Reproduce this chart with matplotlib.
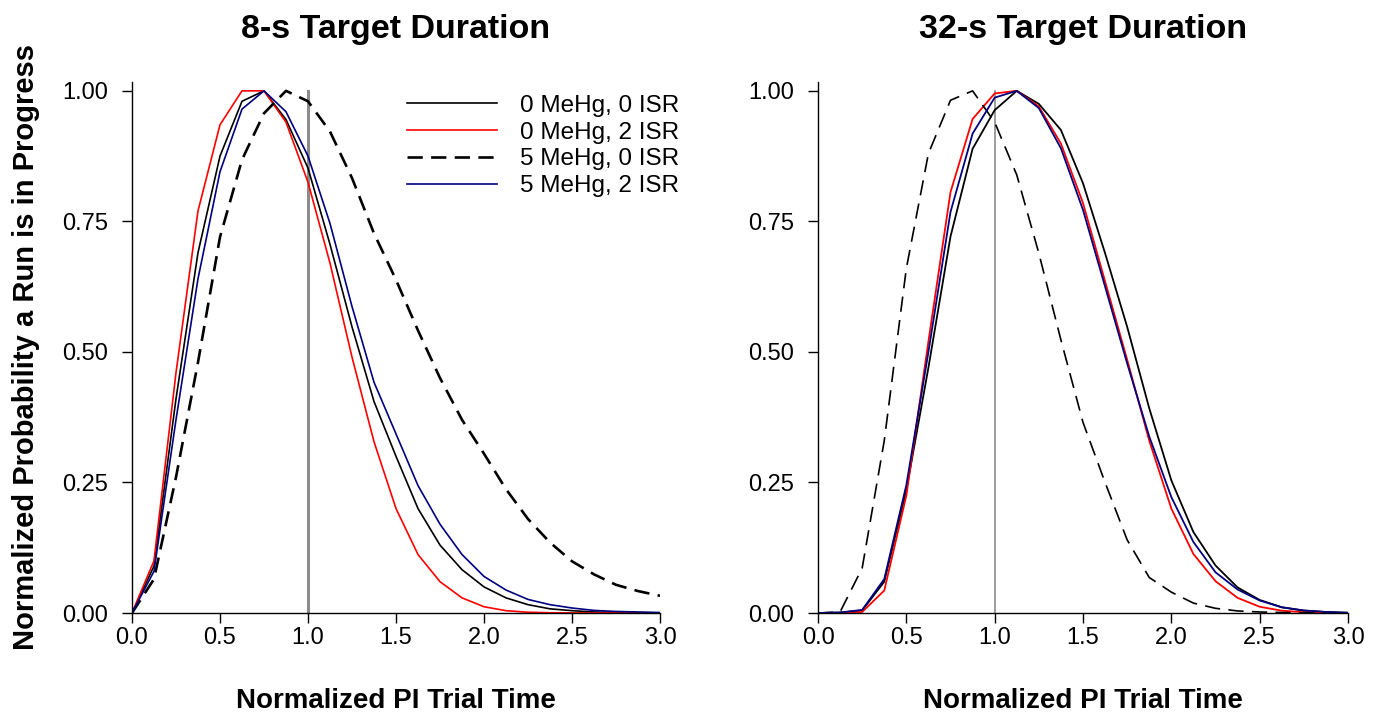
import matplotlib
matplotlib.use("Agg")
import matplotlib.pyplot as plt
import numpy as np

plt.rcParams['font.family'] = ['Liberation Sans', 'DejaVu Sans']
plt.rcParams['lines.scale_dashes'] = False

# Normalized trial time (bins of 1/8 of target duration)
x = np.arange(25) * 0.125

labels = ['0 MeHg, 0 ISR', '0 MeHg, 2 ISR', '5 MeHg, 0 ISR', '5 MeHg, 2 ISR']

# 8-s target duration
s8_m0_i0 = [0, 0.09, 0.41, 0.69, 0.875, 0.98, 1.0, 0.945, 0.852, 0.706, 0.548,
            0.405, 0.30, 0.20, 0.13, 0.083, 0.05, 0.029, 0.016, 0.008, 0.0045,
            0.002, 0.001, 0.0005, 0.0002]
s8_m0_i2 = [0, 0.10, 0.46, 0.77, 0.935, 1.0, 1.0, 0.94, 0.825, 0.67, 0.49,
            0.328, 0.20, 0.112, 0.06, 0.029, 0.012, 0.0045, 0.0015, 0.0005,
            0.0002, 0.0001, 0, 0, 0]
s8_m5_i0 = [0, 0.065, 0.26, 0.48, 0.72, 0.868, 0.957, 1.0, 0.98, 0.922, 0.833,
            0.727, 0.638, 0.541, 0.45, 0.37, 0.305, 0.237, 0.18, 0.135, 0.099,
            0.074, 0.054, 0.042, 0.033]
s8_m5_i2 = [0, 0.08, 0.37, 0.64, 0.845, 0.965, 1.0, 0.96, 0.875, 0.746, 0.587,
            0.442, 0.343, 0.244, 0.17, 0.112, 0.07, 0.044, 0.026, 0.016, 0.0096,
            0.005, 0.003, 0.002, 0.001]

# 32-s target duration
s32_m0_i0 = [0, 0.001, 0.005, 0.06, 0.235, 0.47, 0.721, 0.889, 0.963, 1.0, 0.975,
             0.925, 0.823, 0.689, 0.548, 0.392, 0.254, 0.155, 0.091, 0.049, 0.025,
             0.011, 0.0045, 0.002, 0.0005]
s32_m0_i2 = [0, 0, 0.002, 0.043, 0.225, 0.52, 0.806, 0.946, 0.995, 1.0, 0.97,
             0.899, 0.785, 0.635, 0.485, 0.33, 0.20, 0.113, 0.061, 0.029, 0.012,
             0.0045, 0.0015, 0.0005, 0]
s32_m5_i0 = [0, 0.002, 0.086, 0.33, 0.66, 0.88, 0.982, 1.0, 0.94, 0.839, 0.689,
             0.523, 0.365, 0.25, 0.14, 0.068, 0.04, 0.019, 0.009, 0.004, 0.002,
             0.001, 0.0005, 0, 0]
s32_m5_i2 = [0, 0.001, 0.006, 0.065, 0.245, 0.50, 0.768, 0.918, 0.987, 1.0, 0.967,
             0.89, 0.772, 0.625, 0.478, 0.338, 0.222, 0.136, 0.078, 0.045, 0.024,
             0.011, 0.005, 0.002, 0.0005]

fig = plt.figure(figsize=(13.82, 7.19), dpi=100)
ax1 = fig.add_axes([0.0955, 0.1474, 0.3821, 0.7386])
ax2 = fig.add_axes([0.5919, 0.1474, 0.3835, 0.7386])


def draw(ax, series, title, solid_lw, dash_lw, vline_lw):
    ax.plot([1, 1], [0, 1], color='#8c8c8c', lw=vline_lw, zorder=1)
    a, b, c, d = series
    ax.plot(x, a, color='black', lw=solid_lw, label=labels[0])
    ax.plot(x, b, color='#ff0000', lw=solid_lw, label=labels[1])
    ax.plot(x, c, color='black', lw=dash_lw, dashes=(11, 6), label=labels[2])
    ax.plot(x, d, color='#000080', lw=solid_lw, label=labels[3])
    ax.set_xlim(0, 3)
    ax.set_ylim(0, 1.017)
    ax.set_xticks(np.arange(0, 3.01, 0.5))
    ax.set_xticklabels(['%.1f' % t for t in np.arange(0, 3.01, 0.5)])
    ax.set_yticks([0, 0.25, 0.5, 0.75, 1.0])
    ax.set_yticklabels(['0.00', '0.25', '0.50', '0.75', '1.00'])
    ax.tick_params(labelsize=17, length=7, width=1)
    ax.tick_params(axis='x', pad=3)
    ax.tick_params(axis='y', pad=10)
    for s in ['top', 'right']:
        ax.spines[s].set_visible(False)
    for s in ['left', 'bottom']:
        ax.spines[s].set_linewidth(1)
    ax.set_title(title, fontsize=24.5, fontweight='bold', pad=32)
    ax.set_xlabel('Normalized PI Trial Time', fontsize=20, fontweight='bold', labelpad=28)


draw(ax1, [s8_m0_i0, s8_m0_i2, s8_m5_i0, s8_m5_i2], '8-s Target Duration', 1.2, 1.9, 2.2)
draw(ax2, [s32_m0_i0, s32_m0_i2, s32_m5_i0, s32_m5_i2], '32-s Target Duration', 1.3, 1.2, 1.2)

ax1.set_ylabel('Normalized Probability a Run is in Progress', fontsize=21,
               fontweight='bold', labelpad=16)

ax1.legend(loc='upper left', bbox_to_anchor=(0.489, 1.008), frameon=False, fontsize=17.5,
           handlelength=3.7, handletextpad=0.95, labelspacing=0.2, borderpad=0.2)

fig.savefig('out.png', dpi=100)
